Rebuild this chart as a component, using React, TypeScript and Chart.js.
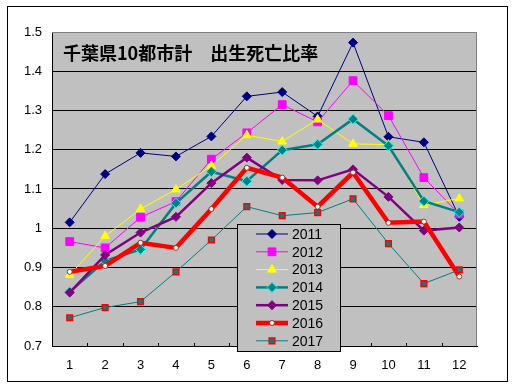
import React, { useEffect, useRef } from "react";
import { Chart, registerables } from "chart.js";

Chart.register(...registerables);

const categories = ["1", "2", "3", "4", "5", "6", "7", "8", "9", "10", "11", "12"];
const seriesNames = ["2011", "2012", "2013", "2014", "2015", "2016", "2017"];
const s2011 = [1.015, 1.138, 1.192, 1.183, 1.234, 1.336, 1.347, 1.285, 1.473, 1.233, 1.219, 1.029];
const s2012 = [0.966, 0.95, 1.028, 1.068, 1.176, 1.243, 1.315, 1.271, 1.376, 1.287, 1.129, 1.036];
const s2013 = [0.881, 0.98, 1.049, 1.099, 1.159, 1.237, 1.221, 1.277, 1.215, 1.213, 1.059, 1.076];
const s2014 = [0.838, 0.917, 0.946, 1.064, 1.144, 1.12, 1.199, 1.214, 1.278, 1.21, 1.069, 1.041];
const s2015 = [0.836, 0.932, 0.989, 1.029, 1.115, 1.18, 1.123, 1.122, 1.15, 1.08, 0.994, 1.002];
const s2016 = [0.889, 0.904, 0.963, 0.95, 1.049, 1.154, 1.129, 1.055, 1.142, 1.014, 1.017, 0.877];
const s2017 = [0.772, 0.798, 0.813, 0.889, 0.97, 1.055, 1.032, 1.04, 1.075, 0.961, 0.859, 0.894];
const yTicks = [0.7, 0.8, 0.9, 1.0, 1.1, 1.2, 1.3, 1.4, 1.5];
const titleText = "千葉県10都市計　出生死亡比率";

type Style = {
  line: string;
  width: number;
  shape: "diamond" | "square" | "triangle" | "circle";
  radius: number;
  fill: string;
  stroke: string;
  strokeWidth: number;
};

const styles: Style[] = [
  { line: "#000080", width: 1, shape: "diamond", radius: 4.5, fill: "#000080", stroke: "#000080", strokeWidth: 1 },
  { line: "#FF00FF", width: 1, shape: "square", radius: 5.5, fill: "#FF00FF", stroke: "#FF00FF", strokeWidth: 1 },
  { line: "#FFFF00", width: 1, shape: "triangle", radius: 5, fill: "#FFFF00", stroke: "#FFFF00", strokeWidth: 1 },
  { line: "#008080", width: 2.5, shape: "diamond", radius: 5, fill: "#008080", stroke: "#00FFFF", strokeWidth: 1 },
  { line: "#800080", width: 2.5, shape: "diamond", radius: 4.5, fill: "#800080", stroke: "#800080", strokeWidth: 1 },
  { line: "#FF0000", width: 4.5, shape: "circle", radius: 2.5, fill: "#FFFFF0", stroke: "#993333", strokeWidth: 1 },
  { line: "#008080", width: 1, shape: "square", radius: 4, fill: "#008080", stroke: "#FF0000", strokeWidth: 1.5 },
];

const shapeMap: Record<string, string> = {
  diamond: "rectRot",
  square: "rect",
  triangle: "triangle",
  circle: "circle",
};

function drawMarker(ctx: CanvasRenderingContext2D, s: Style, x: number, y: number) {
  ctx.save();
  ctx.fillStyle = s.fill;
  ctx.strokeStyle = s.stroke;
  ctx.lineWidth = s.strokeWidth;
  ctx.beginPath();
  const r = s.radius;
  if (s.shape === "diamond") {
    ctx.moveTo(x - r, y);
    ctx.lineTo(x, y - r);
    ctx.lineTo(x + r, y);
    ctx.lineTo(x, y + r);
    ctx.closePath();
  } else if (s.shape === "square") {
    const h = r * Math.SQRT1_2;
    ctx.rect(x - h, y - h, 2 * h, 2 * h);
  } else if (s.shape === "triangle") {
    const a = (3 * r) / Math.sqrt(3);
    const h = (a * Math.sqrt(3)) / 2;
    ctx.moveTo(x - a / 2, y + h / 3);
    ctx.lineTo(x + a / 2, y + h / 3);
    ctx.lineTo(x, y - (2 * h) / 3);
    ctx.closePath();
  } else {
    ctx.arc(x, y, r, 0, Math.PI * 2);
  }
  ctx.fill();
  ctx.stroke();
  ctx.restore();
}

const decorPlugin = {
  id: "decor",
  beforeDraw(chart: any) {
    const { ctx, chartArea } = chart;
    ctx.save();
    ctx.fillStyle = "#FFFFFF";
    ctx.fillRect(0, 0, chart.width, chart.height);
    ctx.fillStyle = "#C0C0C0";
    ctx.fillRect(chartArea.left, chartArea.top, chartArea.right - chartArea.left, chartArea.bottom - chartArea.top);
    ctx.restore();
  },
  beforeDatasetsDraw(chart: any) {
    const { ctx, chartArea } = chart;
    const xs = chart.scales.x;
    ctx.save();
    ctx.strokeStyle = "#808080";
    ctx.lineWidth = 1;
    ctx.beginPath();
    ctx.moveTo(chartArea.left, chartArea.top + 0.5);
    ctx.lineTo(chartArea.right - 0.5, chartArea.top + 0.5);
    ctx.lineTo(chartArea.right - 0.5, chartArea.bottom);
    ctx.stroke();
    ctx.strokeStyle = "#000000";
    ctx.beginPath();
    for (let i = 0; i < categories.length - 1; i++) {
      const x = Math.round((xs.getPixelForValue(i) + xs.getPixelForValue(i + 1)) / 2) + 0.5;
      ctx.moveTo(x, chartArea.bottom);
      ctx.lineTo(x, chartArea.bottom - 3);
    }
    ctx.stroke();
    ctx.restore();
  },
  afterDraw(chart: any) {
    const { ctx, chartArea } = chart;
    ctx.save();
    // title
    ctx.fillStyle = "#000000";
    ctx.font = 'bold 18px "Noto Sans CJK JP", sans-serif';
    ctx.textBaseline = "middle";
    ctx.textAlign = "left";
    ctx.fillText(titleText, chartArea.left + 11, 53);
    // legend
    const lx = 237.5, ly = 224.5, lw = 103, lh = 127;
    ctx.fillStyle = "#C0C0C0";
    ctx.fillRect(lx, ly, lw, lh);
    ctx.strokeStyle = "#000000";
    ctx.lineWidth = 1;
    ctx.strokeRect(lx, ly, lw, lh);
    ctx.font = '14px "Liberation Sans", Arial, sans-serif';
    seriesNames.forEach((name, i) => {
      const s = styles[i];
      const y = 234 + i * 17.8;
      ctx.strokeStyle = s.line;
      ctx.lineWidth = s.width;
      ctx.beginPath();
      ctx.moveTo(256, y);
      ctx.lineTo(288, y);
      ctx.stroke();
      drawMarker(ctx, s, 272, y);
      ctx.fillStyle = "#000000";
      ctx.textBaseline = "middle";
      ctx.fillText(name, 292, y + 1);
    });
    // outer border
    ctx.strokeStyle = "#000000";
    ctx.lineWidth = 1;
    ctx.strokeRect(7.5, 6.5, 500, 375);
    ctx.restore();
  },
};

export default function App() {
  const ref = useRef<HTMLCanvasElement | null>(null);
  useEffect(() => {
    if (!ref.current) return;
    const seriesData = [s2011, s2012, s2013, s2014, s2015, s2016, s2017];
    const chart = new Chart(ref.current, {
      type: "line",
      data: {
        labels: categories,
        datasets: seriesNames.map((name, i) => {
          const s = styles[i];
          return {
            label: name,
            data: seriesData[i],
            borderColor: s.line,
            borderWidth: s.width,
            backgroundColor: s.fill,
            pointStyle: shapeMap[s.shape],
            pointRadius: s.radius,
            pointHoverRadius: s.radius,
            pointBackgroundColor: s.fill,
            pointBorderColor: s.stroke,
            pointBorderWidth: s.strokeWidth,
            tension: 0,
            fill: false,
            order: seriesNames.length - i,
          };
        }),
      },
      options: {
        animation: false,
        responsive: false,
        maintainAspectRatio: false,
        layout: { padding: { left: 0, top: 32, right: 37, bottom: 0 } },
        plugins: { legend: { display: false }, tooltip: { enabled: false }, title: { display: false } },
        scales: {
          x: {
            type: "category",
            offset: true,
            grid: { display: false, drawTicks: false },
            border: { display: true, color: "#000000", width: 1 },
            ticks: {
              color: "#000000",
              font: { family: '"Liberation Sans", Arial, sans-serif', size: 13 },
              padding: 12,
              maxRotation: 0,
              autoSkip: false,
            },
            afterFit: (scale: any) => {
              scale.height = 42;
            },
          },
          y: {
            type: "linear",
            min: yTicks[0],
            max: yTicks[yTicks.length - 1],
            afterBuildTicks: (scale: any) => {
              scale.ticks = yTicks.map((v) => ({ value: v }));
            },
            grid: {
              drawTicks: false,
              color: (c: any) => (Math.abs(c.tick.value - 1.5) < 1e-6 || Math.abs(c.tick.value - 0.7) < 1e-6 ? "rgba(0,0,0,0)" : "#000000"),
              lineWidth: 1,
            },
            border: { display: true, color: "#000000", width: 1 },
            ticks: {
              color: "#000000",
              font: { family: '"Liberation Sans", Arial, sans-serif', size: 13 },
              padding: 10,
              callback: (v: any) => Number(Number(v).toFixed(1)).toString(),
            },
            afterFit: (scale: any) => {
              scale.width = 52;
            },
          },
        },
      },
      plugins: [decorPlugin],
    });
    return () => chart.destroy();
  }, []);
  return (
    <div style={{ position: "fixed", left: 0, top: 0, width: 514, height: 388, background: "#fff" }}>
      <canvas ref={ref} width={514} height={388} style={{ display: "block", width: 514, height: 388 }} />
    </div>
  );
}
